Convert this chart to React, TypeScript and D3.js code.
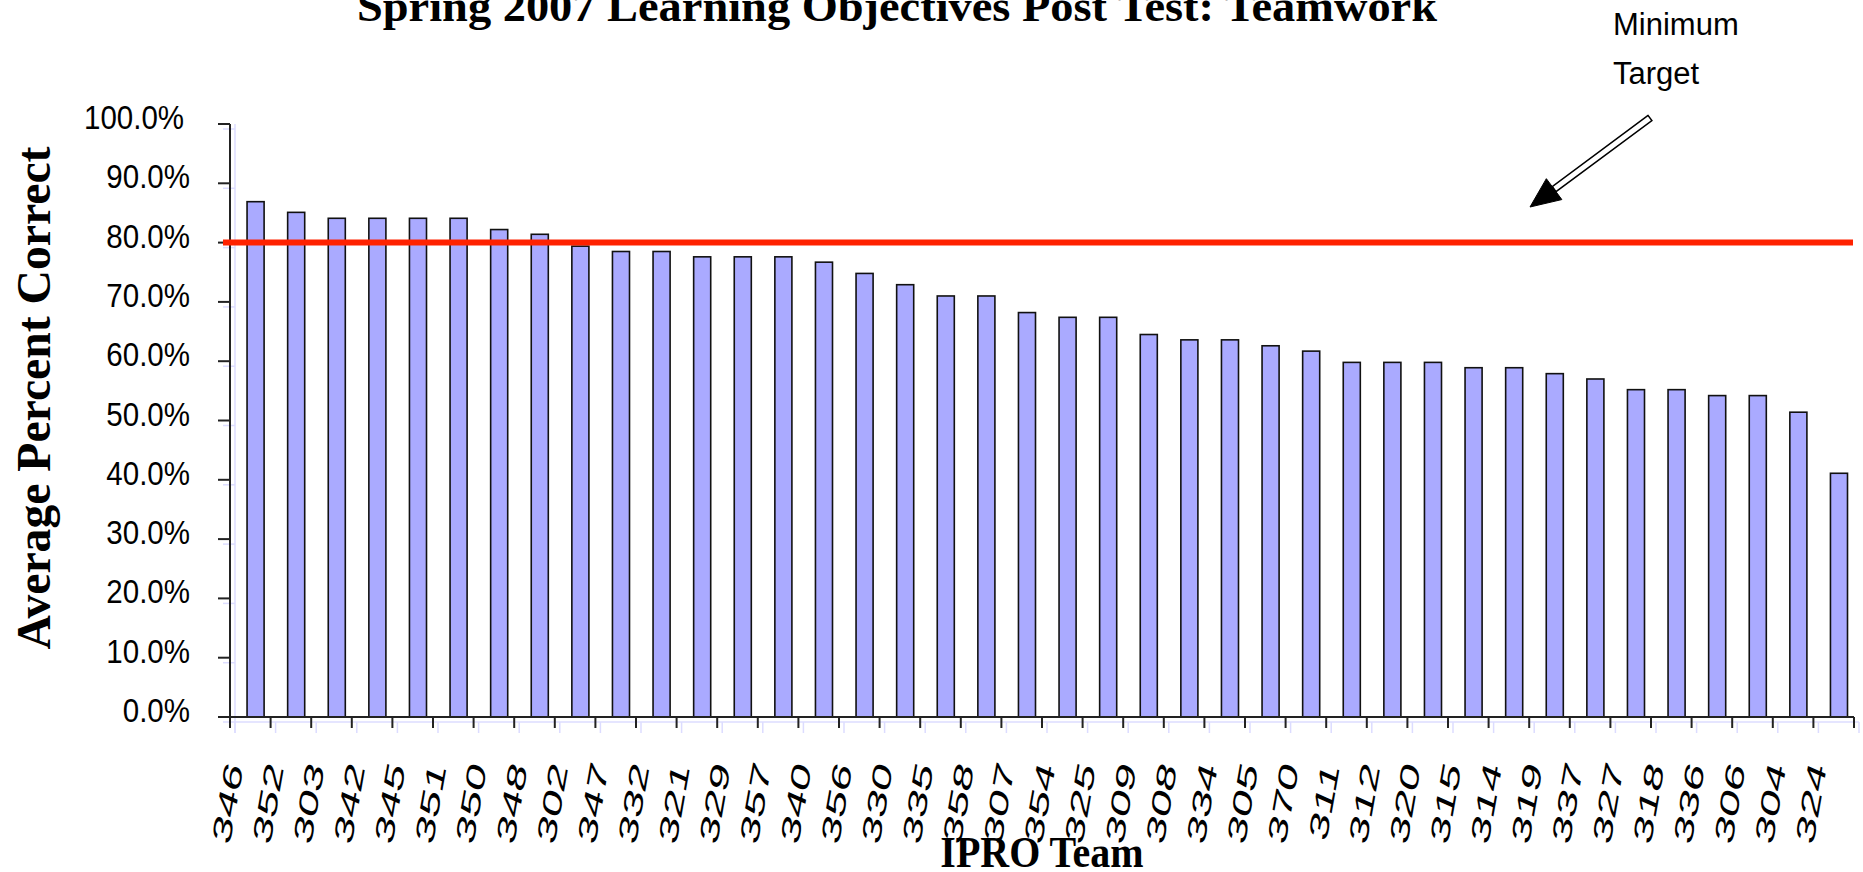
import React, { useEffect } from "react";
import * as d3 from "d3";

const categories = ["346","352","303","342","345","351","350","348","302","347","332","321","329","357","340","356","330","335","358","307","354","325","309","308","334","305","370","311","312","320","315","314","319","337","327","318","336","306","304","324"];
const values = [86.9,85.1,84.1,84.1,84.1,84.1,82.2,81.4,79.4,78.5,78.5,77.6,77.6,77.6,76.7,74.8,72.9,71.0,71.0,68.2,67.4,67.4,64.5,63.6,63.6,62.6,61.7,59.8,59.8,59.8,58.9,58.9,57.9,57.0,55.2,55.2,54.2,54.2,51.4,41.1];
const yTicks = [0,10,20,30,40,50,60,70,80,90,100];
const targetValue = 80;
const title = "Spring 2007 Learning Objectives Post Test: Teamwork";
const yTitle = "Average Percent Correct";
const xTitle = "IPRO Team";
const noteLines = ["Minimum", "Target"];

const W = 1863, H = 872;
const SERIF = "'Liberation Serif','Times New Roman',serif";
const SANS = "'Liberation Sans',Arial,sans-serif";

export default function App() {
  useEffect(() => {
    document.body.style.margin = "0";
    document.body.style.overflow = "hidden";
  }, []);

  const x = d3.scaleBand<string>().domain(categories).range([230, 1854]).padding(0);
  const y = d3.scaleLinear().domain([0, 100]).range([717, 124]);
  const bw = x.bandwidth();
  const ghost = "#dcdcff";

  // arrow geometry
  const tail = [1650, 118], tip = [1530, 207];
  const dx = tip[0] - tail[0], dy = tip[1] - tail[1];
  const len = Math.hypot(dx, dy);
  const ux = dx / len, uy = dy / len, nx = -uy, ny = ux;
  const headL = 30, headW = 13, shaftW = 3.2;
  const bx = tip[0] - ux * headL, by = tip[1] - uy * headL;
  const shaft = [
    [tail[0] + nx * shaftW, tail[1] + ny * shaftW],
    [bx + nx * shaftW, by + ny * shaftW],
    [bx - nx * shaftW, by - ny * shaftW],
    [tail[0] - nx * shaftW, tail[1] - ny * shaftW],
  ];
  const head = [
    [tip[0], tip[1]],
    [bx + nx * headW, by + ny * headW],
    [bx - nx * headW, by - ny * headW],
  ];
  const pts = (a: number[][]) => a.map((p) => p.join(",")).join(" ");

  // x label transform: advance direction -80deg (stretched), glyph orientation -66deg
  const adv = (-80 * Math.PI) / 180, gl = (-66 * Math.PI) / 180;
  const s1 = 1.7, s2 = 1.0;
  const ma = Math.cos(adv) * s1, mb = Math.sin(adv) * s1;
  const mc = -Math.sin(gl) * s2, md = Math.cos(gl) * s2;

  return (
    <svg width={W} height={H} style={{ position: "absolute", left: 0, top: 0, background: "#fff" }}>
      <rect x={0} y={0} width={W} height={H} fill="#fff" />
      {/* title */}
      <text x={897} y={21} textAnchor="middle" fontFamily={SERIF} fontWeight="bold" fontSize={44}
        textLength={1080} lengthAdjust="spacingAndGlyphs">{title}</text>

      {/* ghost lines */}
      <line x1={235} x2={235} y1={124} y2={733} stroke={ghost} strokeWidth={1.5} />
      <line x1={235} x2={1859} y1={722} y2={722} stroke={ghost} strokeWidth={1.5} />
      {categories.map((c) => (
        <line key={"gt" + c} x1={(x(c) as number) + 5} x2={(x(c) as number) + 5} y1={722} y2={733} stroke={ghost} strokeWidth={1.5} />
      ))}
      <line x1={1859} x2={1859} y1={722} y2={733} stroke={ghost} strokeWidth={1.5} />
      {yTicks.map((t) => (
        <line key={"gy" + t} x1={223} x2={235} y1={y(t) + 5} y2={y(t) + 5} stroke={ghost} strokeWidth={1.5} />
      ))}

      {/* bars */}
      {categories.map((c, i) => (
        <rect key={c} x={(x(c) as number) + bw * 0.42} y={y(values[i])} width={bw * 0.42}
          height={y(0) - y(values[i])} fill="#aaaaff" stroke="#111" strokeWidth={1.6} />
      ))}

      {/* y axis */}
      <line x1={230} x2={230} y1={124} y2={717} stroke="#222" strokeWidth={2} />
      {yTicks.map((t) => (
        <g key={"yt" + t}>
          <line x1={218} x2={230} y1={y(t)} y2={y(t)} stroke="#222" strokeWidth={2} />
          <text transform={`translate(${t === 100 ? 184 : 190},${y(t) + 5}) scale(1,1.1)`} textAnchor="end"
            fontFamily={SANS} fontSize={29.5}>{t.toFixed(1) + "%"}</text>
        </g>
      ))}

      {/* x axis */}
      <line x1={218} x2={1854} y1={717} y2={717} stroke="#222" strokeWidth={2} />
      {categories.map((c) => (
        <line key={"xt" + c} x1={x(c) as number} x2={x(c) as number} y1={717} y2={728} stroke="#222" strokeWidth={2} />
      ))}
      <line x1={1854} x2={1854} y1={717} y2={728} stroke="#222" strokeWidth={2} />
      {categories.map((c) => {
        const ax = (x(c) as number) + bw / 2 - 7;
        return (
          <text key={"xl" + c} transform={`matrix(${ma},${mb},${mc},${md},${ax},768)`} textAnchor="end"
            fontFamily={SANS} fontSize={28}>{c}</text>
        );
      })}

      {/* target line */}
      <line x1={223} x2={1853} y1={y(targetValue)} y2={y(targetValue)} stroke="#ff2200" strokeWidth={6} />

      {/* annotation */}
      <text x={1613} y={35} fontFamily={SANS} fontSize={31}>{noteLines[0]}</text>
      <text x={1613} y={84} fontFamily={SANS} fontSize={31}>{noteLines[1]}</text>
      <polygon points={pts(shaft)} fill="#fff" stroke="#000" strokeWidth={1.5} />
      <polygon points={pts(head)} fill="#000" stroke="#000" strokeWidth={1} />

      {/* axis titles */}
      <text transform="translate(50,398) rotate(-90)" textAnchor="middle" fontFamily={SERIF} fontWeight="bold"
        fontSize={48} textLength={503} lengthAdjust="spacingAndGlyphs">{yTitle}</text>
      <text transform="translate(1042,867) scale(1,1.12)" textAnchor="middle" fontFamily={SERIF} fontWeight="bold"
        fontSize={40}>{xTitle}</text>
    </svg>
  );
}
